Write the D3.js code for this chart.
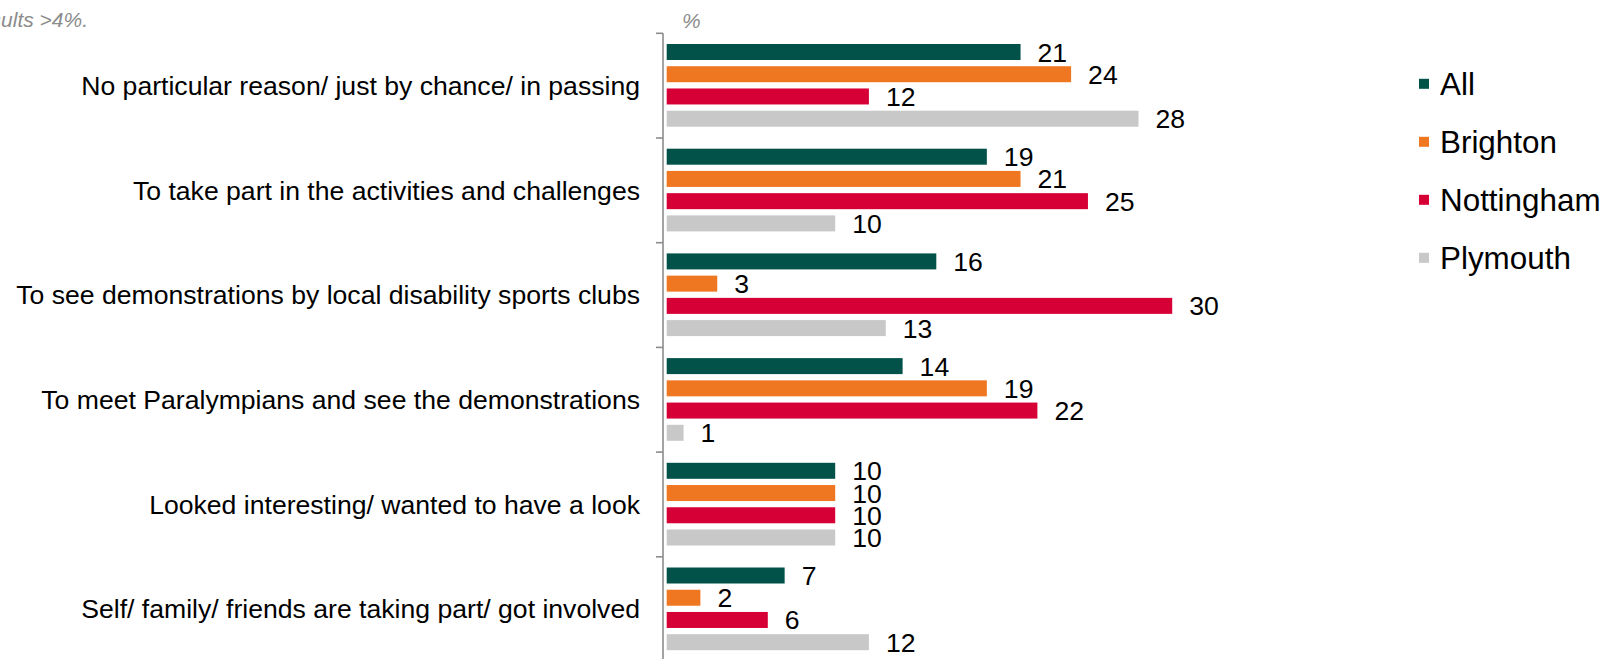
<!DOCTYPE html>
<html>
<head>
<meta charset="utf-8">
<script src="https://cdn.jsdelivr.net/npm/d3@7"></script>
<style>
  body { margin: 0; background: #fff; }
  svg { display: block; font-family: "Liberation Sans", Arial, sans-serif; }
</style>
</head>
<body>
<div id="CHARTviz"></div>
<script>
var categories = [
  "No particular reason/ just by chance/ in passing",
  "To take part in the activities and challenges",
  "To see demonstrations by local disability sports clubs",
  "To meet Paralympians and see the demonstrations",
  "Looked interesting/ wanted to have a look",
  "Self/ family/ friends are taking part/ got involved"
];
var seriesNames = ["All", "Brighton", "Nottingham", "Plymouth"];
var seriesColors = ["#02524a", "#f07722", "#d70036", "#c8c8c8"];
var allValues = [21, 19, 16, 14, 10, 7];
var brightonValues = [24, 21, 3, 19, 10, 2];
var nottinghamValues = [12, 25, 30, 22, 10, 6];
var plymouthValues = [28, 10, 13, 1, 10, 12];

var Chart_width = 1606, Chart_height = 659;
var seriesValues = [allValues, brightonValues, nottinghamValues, plymouthValues];

var rows = categories.map(function(c, i) {
  return { cat: c, vals: seriesNames.map(function(s, j) { return { name: s, value: seriesValues[j][i] }; }) };
});

var svg = d3.select("#CHARTviz")
  .append("svg")
  .attr("width", Chart_width)
  .attr("height", Chart_height);

// scales
var axisX = 663;
var x = d3.scaleLinear().domain([0, 30]).range([666.7, 1172.2]);
var groupH = 104.7;
var y0 = d3.scaleBand().domain(categories).range([33.3, 33.3 + groupH * categories.length]).padding(0);
var y1 = d3.scaleBand().domain(seriesNames).range([10.7, groupH - 11.3]).paddingInner(0.28).paddingOuter(0);

// bars
var groups = svg.selectAll(".grp")
  .data(rows)
  .enter()
  .append("g")
  .attr("class", "grp")
  .attr("transform", function(d) { return "translate(0," + y0(d.cat) + ")"; });

groups.selectAll("rect")
  .data(function(d) { return d.vals; })
  .enter()
  .append("rect")
  .attr("x", x(0))
  .attr("y", function(d) { return y1(d.name); })
  .attr("width", function(d) { return x(d.value) - x(0); })
  .attr("height", y1.bandwidth())
  .style("fill", function(d, i) { return seriesColors[i]; });

groups.selectAll(".val")
  .data(function(d) { return d.vals; })
  .enter()
  .append("text")
  .attr("class", "val")
  .attr("x", function(d) { return x(d.value) + 17; })
  .attr("y", function(d) { return y1(d.name) + y1.bandwidth() / 2 + 9.5; })
  .style("font-size", "26.6px")
  .style("fill", "#000")
  .text(function(d) { return d.value; });

// category axis on the left of the bars
var yAxis = d3.axisLeft(y0).tickSize(0).tickPadding(23);
var YAXIS = svg.append("g")
  .attr("transform", "translate(" + axisX + ",0)")
  .call(yAxis);
YAXIS.select(".domain").remove();
YAXIS.selectAll("text")
  .style("font-size", "26.6px")
  .style("font-family", "'Liberation Sans', Arial, sans-serif")
  .attr("dy", "0.35em")
  .style("fill", "#000");

// axis line with ticks between groups
svg.append("line")
  .attr("x1", axisX).attr("x2", axisX)
  .attr("y1", y0.range()[0]).attr("y2", Chart_height + 5)
  .attr("stroke", "#8c8c8c")
  .attr("stroke-width", 1.6);
svg.selectAll(".sep")
  .data(categories)
  .enter()
  .append("line")
  .attr("class", "sep")
  .attr("x1", axisX - 7).attr("x2", axisX)
  .attr("y1", function(d) { return y0(d); })
  .attr("y2", function(d) { return y0(d); })
  .attr("stroke", "#8c8c8c")
  .attr("stroke-width", 1.6);

// notes
svg.append("text")
  .attr("x", 88).attr("y", 27)
  .attr("text-anchor", "end")
  .style("font-size", "21px")
  .style("font-style", "italic")
  .style("fill", "#8c8c8c")
  .text("Showing results >4%.");
svg.append("text")
  .attr("x", 682).attr("y", 28)
  .style("font-size", "21px")
  .style("font-style", "italic")
  .style("fill", "#8c8c8c")
  .text("%");

// legend
var legend = svg.selectAll(".leg")
  .data(seriesNames)
  .enter()
  .append("g")
  .attr("class", "leg")
  .attr("transform", function(d, i) { return "translate(1419," + (83.8 + i * 58) + ")"; });
legend.append("rect")
  .attr("x", 0).attr("y", -5)
  .attr("width", 10).attr("height", 10)
  .style("fill", function(d, i) { return seriesColors[i]; });
legend.append("text")
  .attr("x", 21).attr("y", 11)
  .style("font-size", "31.4px")
  .style("fill", "#000")
  .text(function(d) { return d; });
</script>
</body>
</html>
